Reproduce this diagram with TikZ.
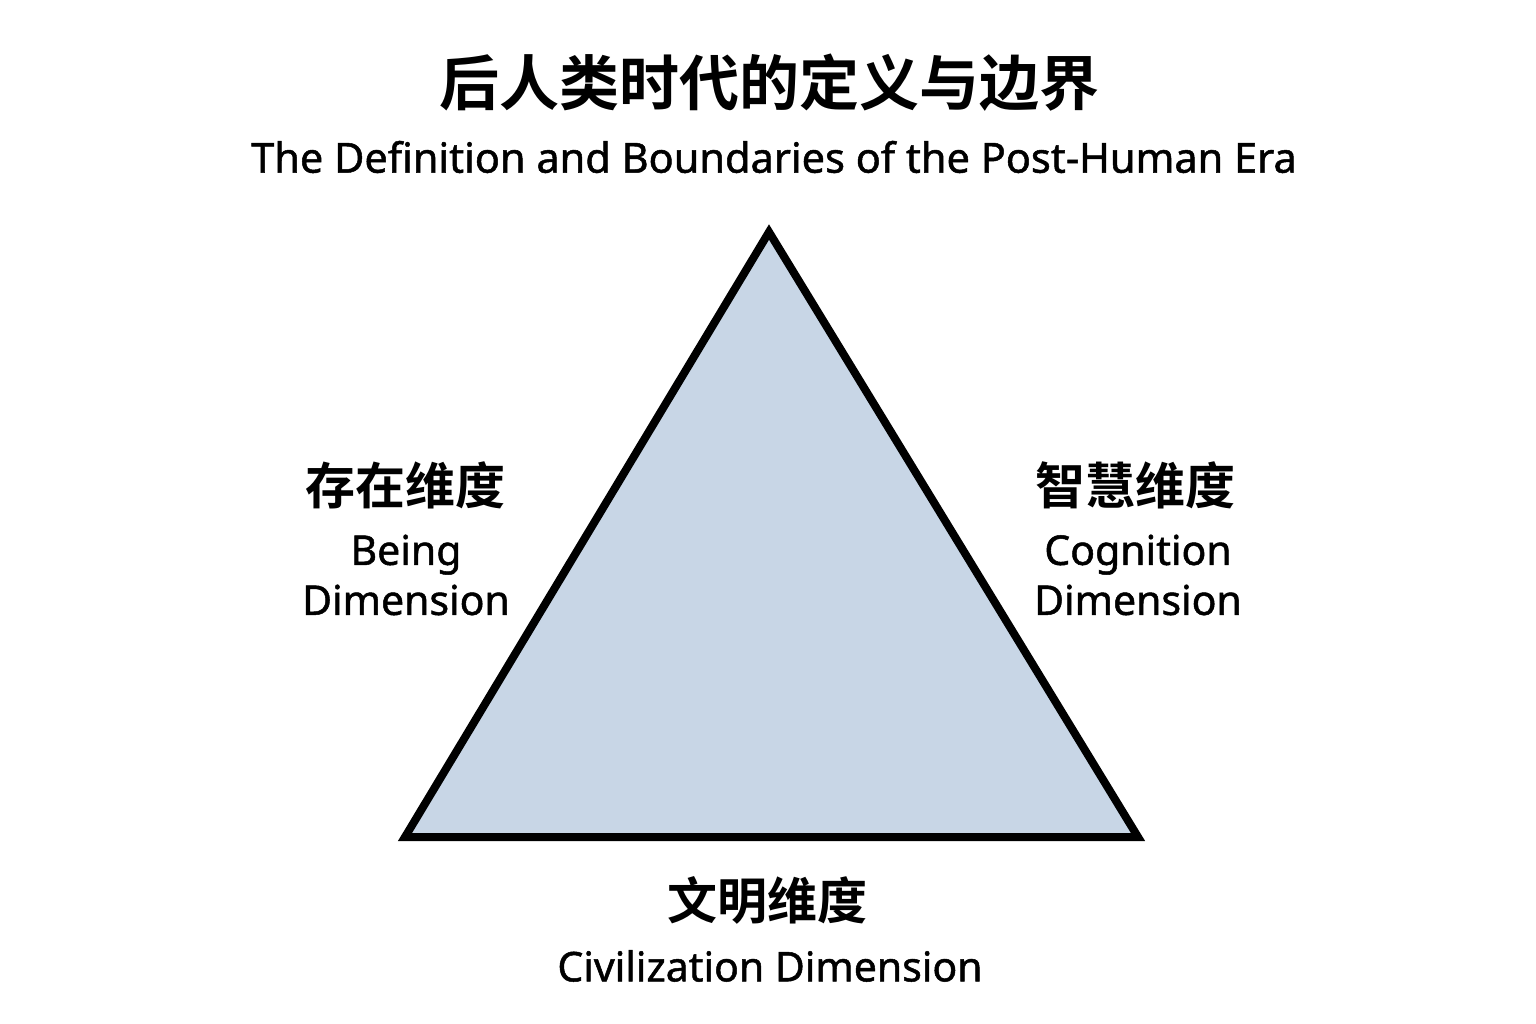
\documentclass[tikz,border=0pt]{standalone}
\usepackage{fontspec}
\setmainfont{Noto Sans}[FakeBold=1.2]
\newfontfamily\cjk{Noto Sans CJK SC}[BoldFont={* Bold}]
\definecolor{trifill}{HTML}{C8D6E6}
\tikzset{
  zhlabel/.style={font=\cjk\bfseries\fontsize{50}{56}\selectfont, inner sep=0pt},
  enlabel/.style={font=\fontsize{41}{50}\selectfont, inner sep=0pt, align=center}
}

\begin{document}
\begin{tikzpicture}[x=1pt, y=-1pt]
  \useasboundingbox[fill=white] (0, 0) rectangle (1536, 1024);
  % title
  \node[font=\cjk\bfseries\fontsize{60}{66}\selectfont, inner sep=0pt] (title) at (769, 83) {后人类时代的定义与边界};
  \node[font=\fontsize{41.5}{50}\selectfont, inner sep=0pt] (subtitle) at (774, 157) {The Definition and Boundaries of the Post-Human Era};
  % triangle
  \coordinate (top) at (769, 232);
  \coordinate (left) at (405, 837);
  \coordinate (right) at (1138, 837);
  \draw[line width=8pt, line join=miter, fill=trifill] (top) -- (left) -- (right) -- cycle;
  % dimensions
  \node[zhlabel] (being) at (405, 485) {存在维度};
  \node[enlabel] (beingen) at (406, 575) {Being\\[0pt]Dimension};
  \node[zhlabel] (cog) at (1135, 485) {智慧维度};
  \node[enlabel] (cogen) at (1138, 575) {Cognition\\[0pt]Dimension};
  \node[zhlabel] (civ) at (767, 900) {文明维度};
  \node[enlabel] (civen) at (770, 966) {Civilization Dimension};
\end{tikzpicture}
\end{document}
